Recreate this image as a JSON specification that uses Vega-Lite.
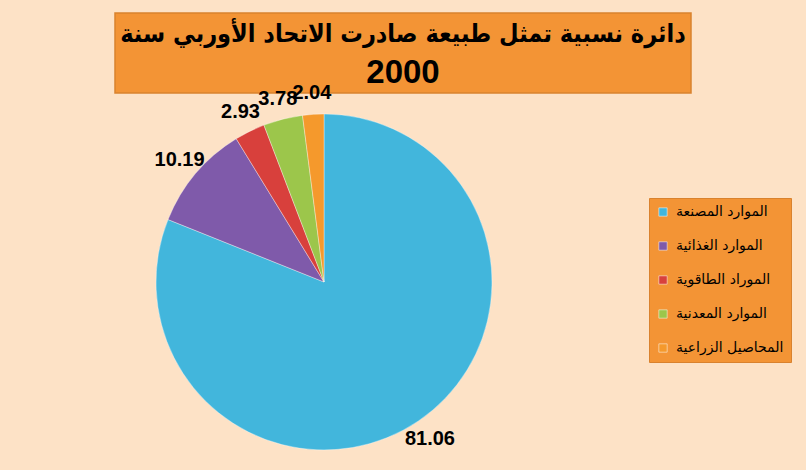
{
  "$schema": "https://vega.github.io/schema/vega-lite/v6.json",
  "background": "#FDE2C6",
  "padding": {"left": 114, "top": 12, "right": 14, "bottom": 18},
  "bounds": "flush",
  "spacing": 21,
  "datasets": {
    "exports": [
      {"category": "الموارد المصنعة", "value": 81.06, "order": 1},
      {"category": "الموارد الغذائية", "value": 10.19, "order": 2},
      {"category": "الموراد الطاقوية", "value": 2.93, "order": 3},
      {"category": "الموارد المعدنية", "value": 3.78, "order": 4},
      {"category": "المحاصيل الزراعية", "value": 2.04, "order": 5}
    ],
    "titlebox": [{"line1": "دائرة نسبية تمثل طبيعة صادرت الاتحاد الأوربي سنة", "line2": "2000"}]
  },
  "vconcat": [
    {
      "width": 576,
      "height": 80,
      "view": {"fill": "#F39435", "stroke": "#D9822E", "strokeWidth": 1.5},
      "data": {"name": "titlebox"},
      "layer": [
        {
          "mark": {"type": "text", "font": "DejaVu Sans Condensed, DejaVu Sans", "fontWeight": "bold", "fontSize": 25, "color": "#000000", "baseline": "middle", "align": "center", "dy": -19},
          "encoding": {"text": {"field": "line1"}}
        },
        {
          "mark": {"type": "text", "font": "Liberation Sans", "fontWeight": "bold", "fontSize": 33, "color": "#000000", "baseline": "middle", "align": "center", "dy": 20},
          "encoding": {"text": {"field": "line2"}}
        }
      ]
    },
    {
      "width": 418,
      "height": 336,
      "view": {"stroke": null},
      "data": {"name": "exports"},
      "encoding": {
        "theta": {"field": "value", "type": "quantitative", "stack": true},
        "order": {"field": "order", "type": "quantitative"}
      },
      "layer": [
        {
          "mark": {"type": "arc", "outerRadius": 168, "stroke": "#ffffff", "strokeWidth": 0.6, "strokeOpacity": 0.6},
          "encoding": {
            "color": {
              "field": "category",
              "type": "nominal",
              "sort": null,
              "scale": {
                "domain": ["الموارد المصنعة", "الموارد الغذائية", "الموراد الطاقوية", "الموارد المعدنية", "المحاصيل الزراعية"],
                "range": ["#42B6DC", "#7F5AAA", "#D8403C", "#9CC64B", "#F5992C"]
              },
              "legend": {
                "orient": "none",
                "legendX": 534,
                "legendY": 185,
                "title": null,
                "fillColor": "#F39435",
                "strokeColor": "#D9822E",
                "padding": 7,
                "symbolType": "square",
                "symbolSize": 70,
                "symbolStrokeColor": "#ffffff",
                "symbolStrokeWidth": 0.5,
                "labelFont": "DejaVu Sans",
                "labelFontSize": 14,
                "labelColor": "#000000",
                "labelOffset": 6,
                "rowPadding": 20,
                "labelLimit": 200
              }
            }
          }
        },
        {
          "mark": {"type": "text", "radius": 189, "font": "Liberation Sans", "fontWeight": "bold", "fontSize": 20, "color": "#000000", "baseline": "middle", "align": "center"},
          "encoding": {"text": {"field": "value", "type": "quantitative", "format": ".2f"}}
        }
      ]
    }
  ]
}
